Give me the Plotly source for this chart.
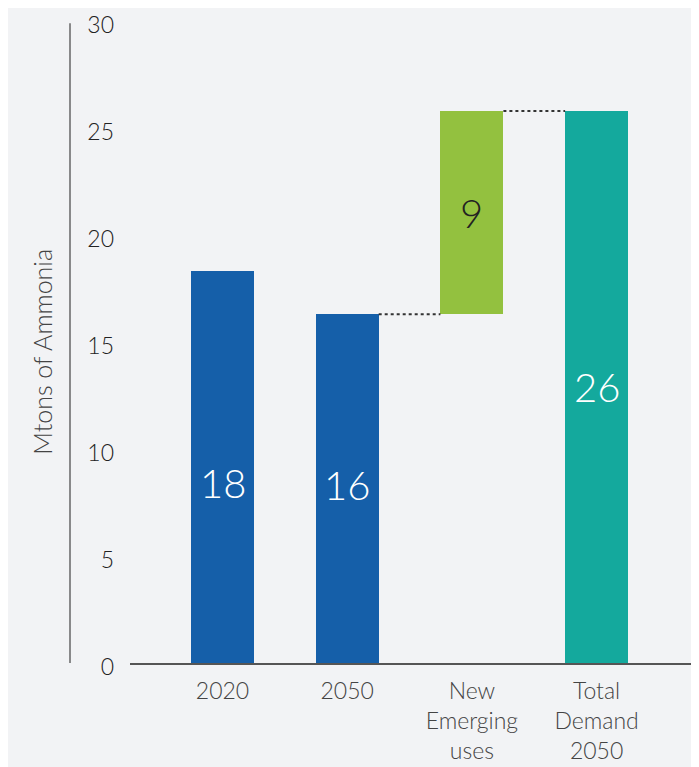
import plotly.graph_objects as go

categories = ["2020", "2050", "New<br>Emerging<br>uses", "Total<br>Demand<br>2050"]
values = [18.3, 16.3, 9.5, 25.8]
bases = [0, 0, 16.3, 0]
labels = ["18", "16", "9", "26"]
colors = ["#155fa9", "#155fa9", "#93c13f", "#14a99d"]
label_colors = ["white", "white", "#222222", "white"]
label_shift = [-16, 4, 0, 0]
yticks = [0, 5, 10, 15, 20, 25, 30]

BG = "#f2f3f5"
FONT = "Lato"
OFF = 8  # page body margin
W, H = 699 - OFF, 767 - OFF
ML, MR, MT, MB = 130 - OFF, 7, 21 - OFF, 104
plot_w = W - ML - MR
BW = 0.505

fig = go.Figure()
fig.add_trace(go.Bar(
    x=list(range(len(categories))), y=values, base=bases,
    marker=dict(color=colors, line=dict(width=0)),
    width=BW, hoverinfo="skip", showlegend=False,
))

# value labels
for i, (v, b, t) in enumerate(zip(values, bases, labels)):
    fig.add_annotation(x=i, y=b + v / 2, text=t, showarrow=False,
                       xref="x", yref="y", yshift=label_shift[i],
                       font=dict(family=FONT, size=40, color=label_colors[i], weight=300))

# connectors (waterfall)
top_2050 = values[1]
top_new = bases[2] + values[2]
fig.add_shape(type="line", xref="x", yref="y", x0=1 + BW / 2, x1=2 - BW / 2,
              y0=top_2050, y1=top_2050, line=dict(color="#333333", width=2, dash="dot"))
fig.add_shape(type="line", xref="x", yref="y", x0=2 + BW / 2, x1=3 - BW / 2,
              y0=top_new, y1=top_new, line=dict(color="#333333", width=2, dash="dot"))

# separate vertical y-axis line
fig.add_shape(type="line", xref="paper", yref="y", x0=(70 - 130) / plot_w, x1=(70 - 130) / plot_w,
              y0=-0.1, y1=29.9, line=dict(color="#666666", width=1.5))

# y-axis title
fig.add_annotation(xref="paper", yref="paper", x=(42 - 130) / plot_w, y=0.485,
                   text="Mtons of Ammonia", textangle=-90, showarrow=False,
                   xanchor="center", yanchor="middle",
                   font=dict(family=FONT, size=25, color="#444444", weight=300))

fig.update_layout(
    width=W, height=H,
    margin=dict(l=ML, r=MR, t=MT, b=MB, pad=0, autoexpand=False),
    paper_bgcolor=BG, plot_bgcolor=BG,
    font=dict(family=FONT, color="#333333"),
    bargap=0,
    xaxis=dict(
        range=[-0.742, 3.765], tickmode="array",
        tickvals=list(range(len(categories))), ticktext=categories,
        showline=True, linecolor="#555555", linewidth=1.5,
        showgrid=False, zeroline=False, ticks="", automargin=False,
        tickfont=dict(family=FONT, size=23, color="#444444", weight=300),
        ticklabelstandoff=7, ticklabeloverflow="allow",
    ),
    yaxis=dict(
        range=[0, 30], tickmode="array", tickvals=yticks,
        ticktext=[str(t) for t in yticks],
        showline=False, showgrid=False, zeroline=False, ticks="", automargin=False,
        tickfont=dict(family=FONT, size=23, color="#222222", weight=300),
        ticklabelstandoff=15, ticklabeloverflow="allow", ticklabelshift=4,
    ),
)

fig.write_html("out.html")
